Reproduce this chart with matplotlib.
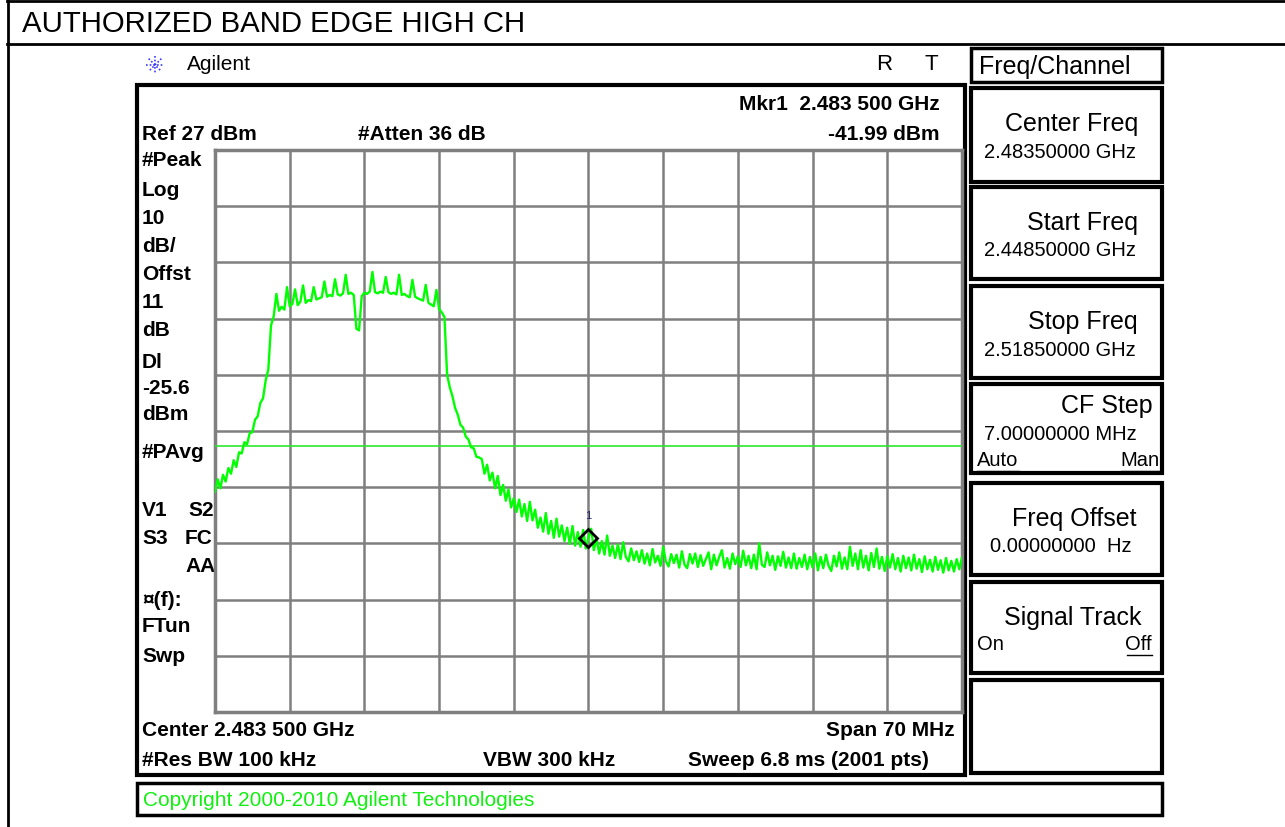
import numpy as np
import matplotlib.pyplot as plt
from matplotlib.patches import Rectangle

plt.rcParams['font.family'] = ['Liberation Sans', 'DejaVu Sans']

# analyzer settings
center_ghz = 2.4835
span_mhz = 70.0
ref_dbm = 27.0
db_per_div = 10.0
display_line_dbm = -25.6
mkr_ghz = 2.4835
mkr_dbm = -41.99
step_mhz = 0.25

# trace levels (dBm), one every 0.25 MHz from the start frequency
level_dbm = [
    -33.8, -31.6, -33.2, -30.8, -32.0, -29.6, -30.6, -28.2, -29.4, -26.8,
    -27.0, -25.0, -25.4, -23.4, -23.2, -21.0, -20.4, -18.0, -17.2, -14.0,
    -12.0, -4.2, -2.6, 1.4, -1.6, -0.9, -1.4, 2.6, -0.8, -0.4,
    2.2, -0.6, 0.0, 2.9, -0.2, 0.3, 0.1, 2.6, 0.4, 0.6,
    0.8, 3.6, 0.9, 1.2, 1.0, 4.0, 1.3, 1.1, 1.5, 4.8,
    1.4, 1.6, 1.2, -4.8, -5.1, 1.0, 1.6, 1.4, 1.8, 5.3,
    1.7, 1.5, 1.8, 1.6, 4.4, 1.7, 1.4, 1.6, 1.3, 4.8,
    1.2, 1.4, 1.0, 0.8, 3.9, 0.9, 0.6, 0.4, 0.2, 3.0,
    -0.2, -0.5, -0.8, 2.1, -1.3, -1.9, -2.7, -13.0, -15.2, -16.8,
    -18.9, -20.1, -21.9, -22.4, -24.0, -24.5, -25.9, -26.1, -27.6, -27.7,
    -28.0, -30.6, -29.0, -31.8, -30.4, -33.2, -31.0, -34.4, -32.6, -35.4,
    -33.4, -36.6, -35.0, -37.4, -35.2, -38.2, -36.0, -39.0, -35.6, -38.9,
    -37.0, -40.2, -38.4, -40.9, -37.6, -41.3, -39.0, -42.0, -38.6, -41.8,
    -39.8, -42.6, -40.2, -43.1, -39.9, -43.4, -41.0, -43.6, -40.6, -43.9,
    -41.99, -40.4, -44.2, -42.0, -44.8, -42.6, -45.0, -41.6, -45.2, -43.4,
    -45.6, -43.2, -45.8, -42.8, -45.4, -46.2, -43.9, -46.0, -44.4, -46.3,
    -44.2, -46.6, -44.8, -46.9, -44.0, -46.4, -45.2, -47.0, -43.6, -46.2,
    -47.1, -44.9, -46.5, -45.0, -47.3, -44.4, -46.8, -47.4, -44.9, -46.6,
    -44.8, -47.2, -45.1, -47.0, -45.8, -44.6, -47.6, -45.0, -46.9, -45.4,
    -44.2, -47.3, -45.6, -47.5, -44.8, -46.7, -45.3, -47.2, -44.3, -46.9,
    -45.2, -47.4, -45.0, -47.6, -43.0, -46.8, -47.2, -44.6, -46.9, -45.2,
    -47.7, -45.3, -47.0, -44.5, -47.3, -45.5, -47.4, -44.8, -47.5, -45.6,
    -47.2, -45.0, -47.6, -45.4, -47.3, -44.8, -47.8, -45.4, -47.4, -45.0,
    -47.0, -47.9, -45.2, -47.1, -44.6, -47.5, -45.5, -47.6, -43.6, -47.0,
    -44.8, -47.6, -44.2, -47.3, -45.2, -47.8, -44.7, -47.2, -43.9, -47.5,
    -45.4, -47.9, -45.3, -47.3, -44.9, -47.6, -45.6, -48.0, -45.2, -47.4,
    -45.5, -47.8, -45.0, -47.5, -45.8, -48.1, -45.3, -47.6, -45.9, -48.0,
    -45.4, -47.7, -46.0, -48.2, -45.6, -47.8, -46.1, -48.0, -45.8, -47.6,
    -45.5,
]

left_labels = ['#Peak', 'Log', '10', 'dB/', 'Offst', '11', 'dB', 'Dl',
               '-25.6', 'dBm', '#PAvg']
left_label_y = [161, 190, 218, 246, 275, 302, 330, 363, 388, 415, 453]

softkeys = [('Center Freq', '2.48350000 GHz'),
            ('Start Freq', '2.44850000 GHz'),
            ('Stop Freq', '2.51850000 GHz')]

W, H = 1285, 827
fig = plt.figure(figsize=(W / 100, H / 100), dpi=100)

# page layer in pixel units
bg = fig.add_axes([0, 0, 1, 1])
bg.set_xlim(0, W)
bg.set_ylim(H, 0)
bg.axis('off')

k = dict(color='black', lw=2)
bg.plot([7, W], [1, 1], **k)
bg.plot([7.5, 7.5], [0, H], **k)
bg.plot([7, W], [44, 44], **k)
bg.text(22, 24, 'AUTHORIZED BAND EDGE HIGH CH', fontsize=21.2, va='center')

# agilent spark
for a in np.arange(0, np.pi, np.pi / 4):
    dx, dy = 9 * np.cos(a), 9 * np.sin(a)
    bg.plot([155 - dx, 155 + dx], [65 - dy, 65 + dy], color='#3a3aff',
            lw=1.2, ls=(0, (1, 1.2)))
bg.text(187, 65, 'Agilent', fontsize=15, va='center')
bg.text(884, 65, 'R', fontsize=16, va='center', ha='center')
bg.text(931, 65, 'T', fontsize=16, va='center', ha='center')

# instrument screen
bg.add_patch(Rectangle((137, 85), 828, 690, fill=False, ec='black', lw=3))
b = dict(fontsize=15, fontweight='bold', va='center')
bg.text(940, 104, 'Mkr1  2.483 500 GHz', ha='right', **b)
bg.text(142, 135, 'Ref 27 dBm', **b)
bg.text(358, 135, '#Atten 36 dB', **b)
bg.text(940, 135, '%.2f dBm' % mkr_dbm, ha='right', **b)
for s, y in zip(left_labels, left_label_y):
    bg.text(142, y, s, **b)
bg.text(142, 510, 'V1', **b)
bg.text(188, 510, 'S2', **b)
bg.text(142, 538, 'S3', **b)
bg.text(185, 538, 'FC', **b)
bg.text(185, 566, 'AA', **b)
bg.text(142, 601, '¤(f):', **b)
bg.text(142, 627, 'FTun', **b)
bg.text(142, 657, 'Swp', **b)
bg.text(142, 730, 'Center 2.483 500 GHz', **b)
bg.text(955, 730, 'Span 70 MHz', ha='right', **b)
bg.text(142, 761, '#Res BW 100 kHz', **b)
bg.text(483, 761, 'VBW 300 kHz', **b)
bg.text(688, 761, 'Sweep 6.8 ms (2001 pts)', **b)

bg.add_patch(Rectangle((137, 783), 1025, 32, fill=False, ec='black', lw=2.5))
bg.text(143, 800, 'Copyright 2000-2010 Agilent Technologies', fontsize=15,
        color='#11f011', va='center')

# softkey panel
bg.add_patch(Rectangle((971, 48), 191, 34, fill=False, ec='black', lw=2.5))
bg.text(979, 67, 'Freq/Channel', fontsize=18, va='center')
box_tops = [88, 187, 286, 384, 483, 582, 680]
box_h = [94, 92, 92, 89, 92, 91, 93]
for y0, h in zip(box_tops, box_h):
    bg.add_patch(Rectangle((971, y0), 191, h, fill=False, ec='black', lw=3))
for (title, val), y0 in zip(softkeys, box_tops):
    bg.text(1138, y0 + 36, title, fontsize=18, ha='right', va='center')
    bg.text(984, y0 + 64, val, fontsize=14.5, va='center')
bg.text(1153, 406, 'CF Step', fontsize=18, ha='right', va='center')
bg.text(984, 434, '7.00000000 MHz', fontsize=14.5, va='center')
bg.text(977, 461, 'Auto', fontsize=14.5, va='center')
bg.text(1160, 461, 'Man', fontsize=14.5, ha='right', va='center')
bg.plot([977, 1019], [471, 471], color='black', lw=1)
bg.plot([1121, 1160], [471, 471], color='black', lw=1)
bg.text(1136, 519, 'Freq Offset', fontsize=18, ha='right', va='center')
bg.text(990, 546, '0.00000000  Hz', fontsize=14.5, va='center')
bg.text(1142, 618, 'Signal Track', fontsize=18, ha='right', va='center')
bg.text(977, 645, 'On', fontsize=14.5, va='center')
bg.text(1152, 645, 'Off', fontsize=14.5, ha='right', va='center')
bg.plot([1127, 1152], [655, 655], color='black', lw=1)

# graticule
gx0, gx1, gy0, gy1 = 215, 962, 150, 712
ax = fig.add_axes([gx0 / W, 1 - gy1 / H, (gx1 - gx0) / W, (gy1 - gy0) / H])
start = center_ghz - span_mhz / 2000
stop = center_ghz + span_mhz / 2000
bottom = ref_dbm - 10 * db_per_div
ax.set_xlim(start, stop)
ax.set_ylim(bottom, ref_dbm)
ax.set_xticks(np.linspace(start, stop, 11))
ax.set_yticks(np.linspace(bottom, ref_dbm, 11))
ax.tick_params(length=0, labelbottom=False, labelleft=False)
ax.grid(color='#7f7f7f', lw=1.8)
for sp in ax.spines.values():
    sp.set_color('#7f7f7f')
    sp.set_linewidth(2.5)
ax.set_facecolor('none')

freq = start + np.arange(len(level_dbm)) * step_mhz / 1000
ax.axhline(display_line_dbm, color='#2ee82e', lw=1.2, zorder=3)
ax.plot(freq, level_dbm, color='#00ff00', lw=1.7, zorder=4)
ax.plot([mkr_ghz], [mkr_dbm], marker='D', ms=9, mfc='none', mec='black',
        mew=2, zorder=5)
ax.annotate('1', (mkr_ghz, mkr_dbm), xytext=(0, 16), textcoords='offset points',
            ha='center', va='center', fontsize=8, color='#222266')

fig.savefig('out.png', dpi=100)
